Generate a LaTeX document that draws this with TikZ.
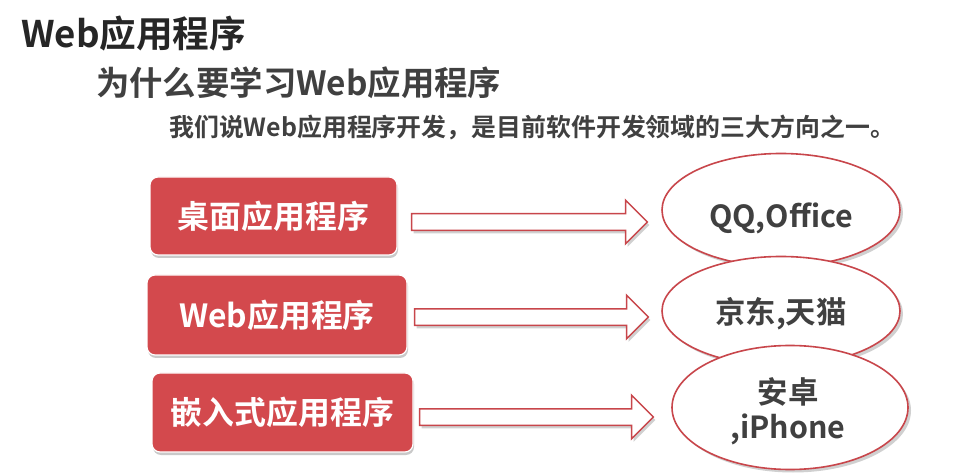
\documentclass[tikz,border=0pt]{standalone}
\usepackage{fontspec}
\setmainfont{Noto Sans CJK SC}[BoldFont={Noto Sans CJK SC Bold}]
\usetikzlibrary{shapes.geometric,shapes.arrows,shadows,calc}
\definecolor{boxred}{RGB}{211,73,77}
\definecolor{linered}{RGB}{200,70,75}
\definecolor{txtgray}{RGB}{64,64,64}
\definecolor{titleblk}{RGB}{38,38,38}
\begin{document}
\begin{tikzpicture}[x=1bp,y=-1bp,
  redbox/.style={rectangle, rounded corners=8bp, fill=boxred, draw=white, line width=1.2bp,
    text=white, font=\fontsize{32}{36}\selectfont\bfseries, inner sep=0pt,
    drop shadow={shadow xshift=1bp, shadow yshift=-3bp, fill=black!35, opacity=0.6}},
  oval/.style={ellipse, fill=white, draw=linered, line width=1.6bp, inner sep=0pt,
    drop shadow={shadow xshift=3bp, shadow yshift=-3bp, fill=black!30, opacity=0.6}},
  ovaltext/.style={text=txtgray, font=\fontsize{30.5}{35}\selectfont\bfseries, align=center, inner sep=0pt},
  hollowarrow/.style={single arrow, fill=white, draw=linered, line width=1.5bp,
    inner sep=7.5bp, single arrow head extend=13.5bp, single arrow tip angle=90,
    drop shadow={shadow xshift=2bp, shadow yshift=-3bp, fill=black!30, opacity=0.6}}
]
\useasboundingbox (0,0) rectangle (977,474);
\fill[white] (0,0) rectangle (977,474);

\node[anchor=west, inner sep=0pt, text=titleblk, font=\fontsize{36.8}{40}\selectfont\bfseries] (title) at (21,34) {Web应用程序};
\node[anchor=west, inner sep=0pt, text=txtgray, font=\fontsize{33.5}{38}\selectfont\bfseries] (sub) at (96,83) {为什么要学习Web应用程序};
\node[anchor=west, inner sep=0pt, text=txtgray, font=\fontsize{25}{28}\selectfont\bfseries] (line) at (169,127) {我们说Web应用程序开发，是目前软件开发领域的三大方向之一。};

\node[redbox, minimum width=247bp, minimum height=78bp] (b1) at (273.5,216) {桌面应用程序};
\node[redbox, minimum width=260bp, minimum height=80bp] (b2) at (277,315) {Web应用程序};
\node[redbox, minimum width=261bp, minimum height=79bp] (b3) at (282.5,412.5) {嵌入式应用程序};

\node[oval, minimum width=238bp, minimum height=113bp] (e1) at (781,210) {};
\node[ovaltext] (t1) at ($(e1.center)+(0,8)$) {QQ,Office};
\node[oval, minimum width=238bp, minimum height=109bp] (e2) at (781,311) {};
\node[ovaltext] (t2) at ($(e2.center)+(0,3)$) {京东,天猫};
\node[oval, minimum width=236bp, minimum height=124bp] (e3) at (790,407.5) {};
\node[ovaltext] (t3) at ($(e3.center)+(-2,4)$) {安卓\\,iPhone};

\foreach \b/\e/\yy/\s/\t in {b1/e1/222/10/18, b2/e2/317/3/17, b3/e3/417/2/22}{
  \path let \p1=(\b.east), \p2=(\e.west) in
    node[hollowarrow, minimum height=\x2-\x1-\s bp-\t bp]
      at ({(\x1+\s bp+\x2-\t bp)/2}, -\yy bp) {};
}
\end{tikzpicture}
\end{document}
